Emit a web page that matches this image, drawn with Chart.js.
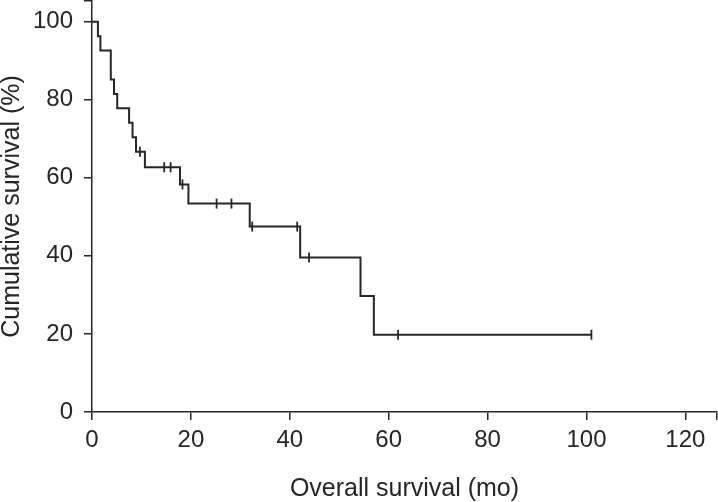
<!DOCTYPE html>
<html>
<head>
<meta charset="utf-8">
<script src="https://cdn.jsdelivr.net/npm/chart.js@4"></script>
<style>
  html, body { margin: 0; padding: 0; background: #fff; }
  #wrap { width: 718px; height: 502px; }
</style>
</head>
<body>
<div id="wrap"><canvas id="kmChart" width="718" height="502"></canvas></div>
<script>
// Kaplan-Meier step points (month, % surviving)
const survTimes = [0, 1.2, 1.7, 3.8, 4.45, 5.1, 7.5, 8.2, 8.9, 10.7, 17.8, 19.5, 31.9, 42.1, 54.3, 57.0, 101.0];
const survValues = [100, 96.3, 92.6, 85.2, 81.5, 77.8, 74.1, 70.4, 66.7, 62.7, 58.3, 53.4, 47.5, 39.6, 29.7, 19.8, 19.8];

// censored observations
const censorTimes = [9.7, 14.6, 15.9, 18.3, 25.2, 28.2, 32.4, 41.5, 43.9, 61.9, 101.0];
const censorValues = [66.7, 62.7, 62.7, 58.3, 53.4, 53.4, 47.5, 47.5, 39.6, 19.8, 19.8];

const xTicks = [0, 20, 40, 60, 80, 100, 120];
const yTicks = [0, 20, 40, 60, 80, 100];
const xMax = 126.4;
const yMax = 105.3;

const ink = '#262626';
const fontFamily = '"Liberation Sans", Arial, sans-serif';

// labelled ticks plus an unlabelled tick at the end of the axis
function endCapTicks(values, max) {
    return function (scale) {
        scale.ticks = values.map(v => ({ value: v })).concat([{ value: max }]);
    };
}

function labelOf(values) {
    return function (value) {
        return values.includes(value) ? String(value) : '';
    };
}

const ctx = document.getElementById('kmChart').getContext('2d');
new Chart(ctx, {
    type: 'line',
    data: {
        datasets: [
            {
                label: 'Survival',
                data: survTimes.map((t, i) => ({ x: t, y: survValues[i] })),
                stepped: true,
                borderColor: ink,
                borderWidth: 2,
                pointRadius: 0,
                fill: false
            },
            {
                label: 'Censored',
                type: 'scatter',
                data: censorTimes.map((t, i) => ({ x: t, y: censorValues[i] })),
                pointStyle: 'line',
                rotation: 90,
                pointRadius: 5,
                borderColor: ink,
                pointBorderWidth: 1.8
            }
        ]
    },
    options: {
        responsive: false,
        animation: false,
        layout: { autoPadding: false, padding: { top: 1, right: 1, left: 0, bottom: 0 } },
        plugins: {
            legend: { display: false },
            tooltip: { enabled: false }
        },
        scales: {
            x: {
                type: 'linear',
                min: 0,
                max: xMax,
                afterBuildTicks: endCapTicks(xTicks, xMax),
                afterFit: s => { s.height = 90; s.paddingRight = 0; },
                border: { color: ink, width: 1.5 },
                grid: { drawOnChartArea: false, drawTicks: true, tickLength: 8, color: ink, lineWidth: 1.5 },
                ticks: {
                    callback: labelOf(xTicks),
                    color: ink,
                    padding: 6,
                    maxRotation: 0,
                    autoSkip: false,
                    font: { family: fontFamily, size: 24 }
                },
                title: {
                    display: true,
                    text: 'Overall survival (mo)',
                    color: ink,
                    padding: { top: 0, bottom: 0 },
                    font: { family: fontFamily, size: 25, lineHeight: 1 }
                }
            },
            y: {
                min: 0,
                max: yMax,
                afterBuildTicks: endCapTicks(yTicks, yMax),
                afterFit: s => { s.width = 92; s.paddingTop = 0; },
                border: { color: ink, width: 1.5 },
                grid: { drawOnChartArea: false, drawTicks: true, tickLength: 8, color: ink, lineWidth: 1.5 },
                ticks: {
                    callback: labelOf(yTicks),
                    color: ink,
                    padding: 11,
                    autoSkip: false,
                    font: { family: fontFamily, size: 24 }
                },
                title: {
                    display: true,
                    text: 'Cumulative survival (%)',
                    color: ink,
                    padding: { top: 0, bottom: 0 },
                    font: { family: fontFamily, size: 25, lineHeight: 1 }
                }
            }
        }
    }
});
</script>
</body>
</html>
